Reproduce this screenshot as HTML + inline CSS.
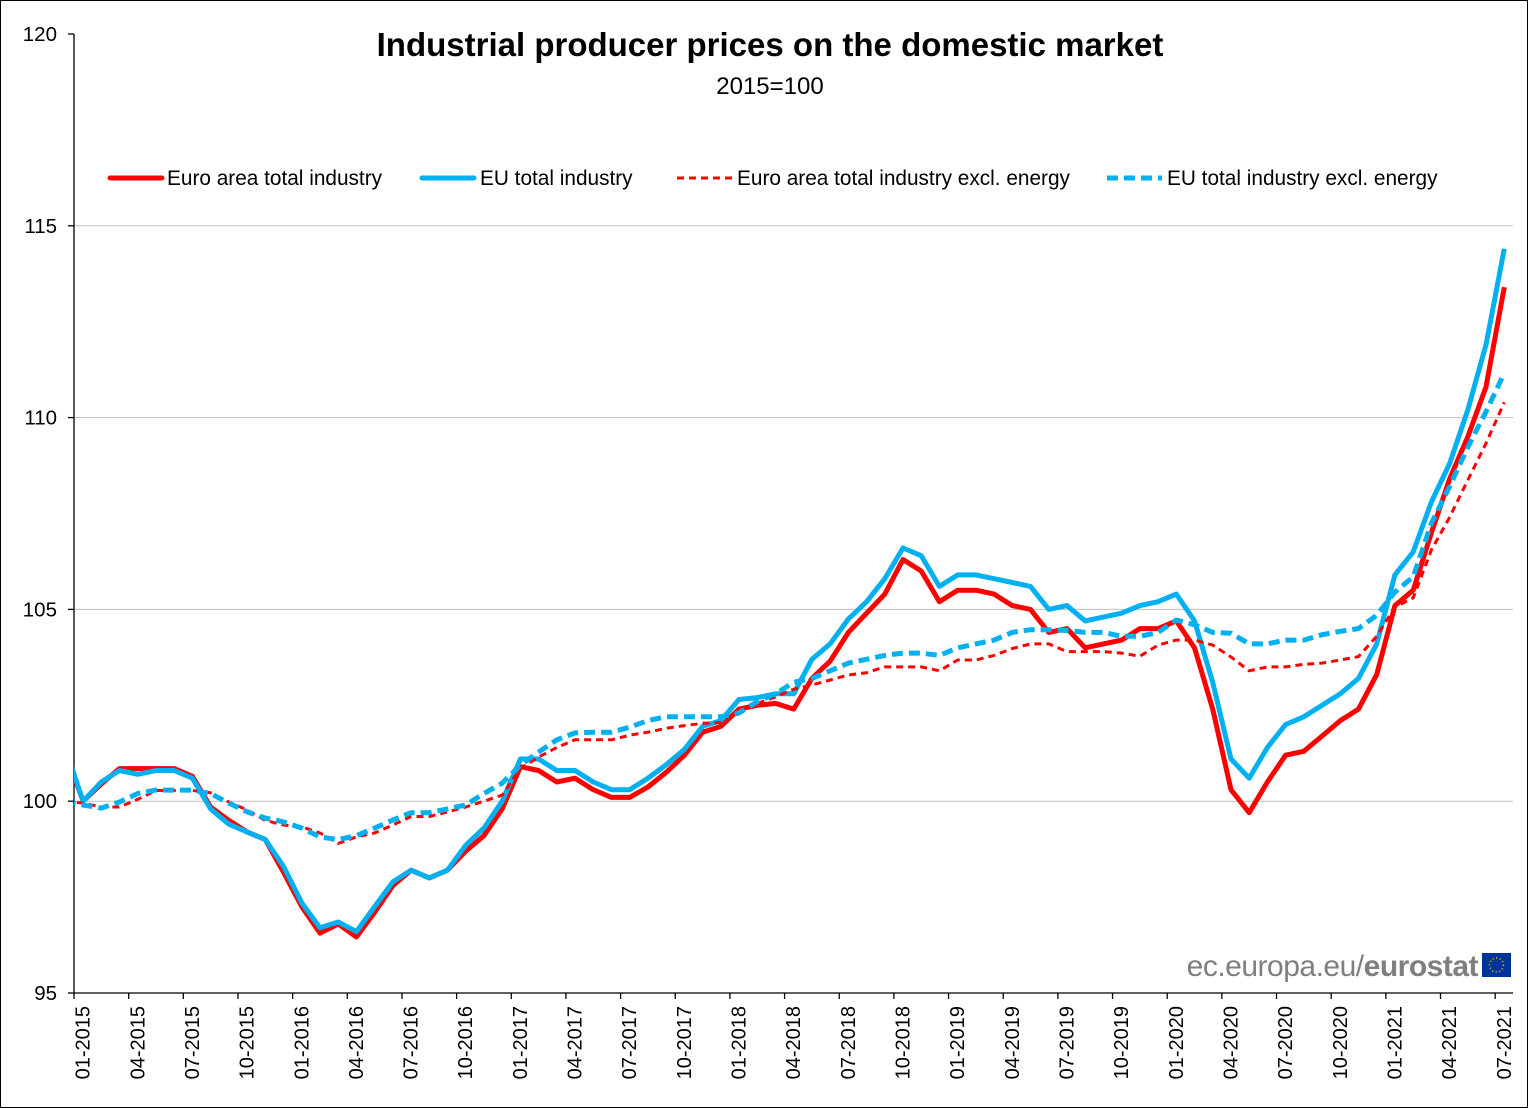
<!DOCTYPE html>
<html><head><meta charset="utf-8">
<style>
html,body{margin:0;padding:0;background:#fff;}
body{width:1528px;height:1108px;overflow:hidden;}
svg{display:block;font-family:"Liberation Sans",Arial,sans-serif;}
</style></head>
<body>
<svg id="chart" width="1528" height="1108" viewBox="0 0 1528 1108" xmlns="http://www.w3.org/2000/svg">
<rect x="0.5" y="0.5" width="1527" height="1107" fill="#fff" stroke="#000" stroke-width="1"/>
<text x="770" y="56" text-anchor="middle" font-size="33" font-weight="bold">Industrial producer prices on the domestic market</text>
<text x="770" y="94" text-anchor="middle" font-size="24">2015=100</text>
<g id="grid"></g>
<g id="yaxis"></g>
<g id="xaxis"></g>
<defs><clipPath id="plotclip"><rect x="74" y="30" width="1440" height="964"/></clipPath></defs>
<g id="series" clip-path="url(#plotclip)"></g>
<g id="legend">
  <g>
    <line x1="110" y1="178" x2="162" y2="178" stroke="#ff0000" stroke-width="5" stroke-linecap="round"/>
    <text x="167" y="185" font-size="20.8">Euro area total industry</text>
  </g>
  <g>
    <line x1="422" y1="178" x2="474" y2="178" stroke="#00b0f0" stroke-width="5" stroke-linecap="round"/>
    <text x="480" y="185" font-size="20.8">EU total industry</text>
  </g>
  <g>
    <line x1="677" y1="178" x2="732" y2="178" stroke="#ff0000" stroke-width="3" stroke-dasharray="7,5"/>
    <text x="737" y="185" font-size="20.8">Euro area total industry excl. energy</text>
  </g>
  <g>
    <line x1="1107" y1="178" x2="1162" y2="178" stroke="#00b0f0" stroke-width="5" stroke-dasharray="11,6"/>
    <text x="1167" y="185" font-size="20.8">EU total industry excl. energy</text>
  </g>
</g>
<g>
  <text x="1478" y="976" text-anchor="end" font-size="30" fill="#7f7f7f" letter-spacing="-0.5">ec.europa.eu/<tspan font-weight="bold">eurostat</tspan></text>
  <rect x="1482" y="953" width="29" height="24" fill="#003399"/>
  <circle cx="1496.5" cy="965" r="7" fill="none" stroke="#ffcc00" stroke-width="1.5" stroke-dasharray="1,2.6"/>
</g>
</svg>
<script>
// Monthly data: 12-2014 (clipped lead-in) through 07-2021
const months = [];
for (let y = 2014; y <= 2021; y++) for (let m = 1; m <= 12; m++) {
  if (y === 2014 && m < 12) continue;
  if (y === 2021 && m > 7) continue;
  months.push((m < 10 ? '0' + m : '' + m) + '-' + y);
}
const euroAreaTotal = [101.3,100.0,100.45,100.85,100.85,100.85,100.85,100.65,99.85,99.5,99.2,99.0,98.15,97.25,96.56,96.8,96.46,97.1,97.8,98.2,98.0,98.2,98.7,99.1,99.8,100.9,100.8,100.5,100.6,100.3,100.1,100.1,100.37,100.75,101.2,101.8,101.95,102.4,102.5,102.55,102.4,103.2,103.65,104.4,104.9,105.4,106.3,106.0,105.2,105.5,105.5,105.4,105.1,105.0,104.4,104.5,104.0,104.1,104.2,104.5,104.5,104.7,104.0,102.4,100.3,99.7,100.5,101.2,101.3,101.7,102.1,102.4,103.3,105.1,105.5,107.0,108.4,109.5,110.8,113.4];
const euTotal = [101.4,100.0,100.5,100.8,100.7,100.8,100.8,100.6,99.8,99.4,99.2,99.0,98.3,97.35,96.7,96.85,96.6,97.25,97.9,98.2,98.0,98.2,98.85,99.3,100.0,101.1,101.1,100.8,100.8,100.5,100.3,100.3,100.6,100.95,101.35,101.95,102.1,102.65,102.7,102.8,102.8,103.7,104.1,104.75,105.2,105.8,106.6,106.4,105.6,105.9,105.9,105.8,105.7,105.6,105.0,105.1,104.7,104.8,104.9,105.1,105.2,105.4,104.7,103.1,101.1,100.6,101.4,102.0,102.2,102.5,102.8,103.2,104.1,105.9,106.5,107.8,108.8,110.2,111.9,114.4];
const euroAreaExclEnergy = [100.0,99.95,99.85,99.85,100.05,100.28,100.28,100.28,100.22,99.98,99.77,99.5,99.38,99.33,99.17,98.9,99.07,99.17,99.38,99.6,99.6,99.72,99.85,100.0,100.16,100.86,101.15,101.4,101.6,101.6,101.6,101.72,101.8,101.9,101.97,102.03,102.05,102.32,102.55,102.72,102.92,103.03,103.16,103.29,103.35,103.5,103.5,103.5,103.4,103.68,103.68,103.8,103.98,104.1,104.1,103.9,103.9,103.9,103.86,103.78,104.07,104.2,104.2,104.07,103.76,103.4,103.5,103.5,103.57,103.6,103.68,103.77,104.3,105.06,105.3,106.55,107.4,108.37,109.33,110.4];
const euExclEnergy = [100.0,99.9,99.82,99.98,100.2,100.29,100.29,100.29,100.2,99.95,99.72,99.56,99.46,99.3,99.07,99.0,99.1,99.3,99.51,99.7,99.7,99.8,99.9,100.2,100.47,100.94,101.28,101.6,101.78,101.8,101.8,101.93,102.1,102.2,102.2,102.2,102.2,102.3,102.6,102.8,103.1,103.2,103.4,103.6,103.7,103.8,103.86,103.86,103.8,104.0,104.1,104.2,104.4,104.47,104.47,104.45,104.4,104.4,104.3,104.3,104.4,104.72,104.6,104.4,104.38,104.1,104.1,104.2,104.2,104.34,104.43,104.5,104.85,105.45,105.85,107.25,108.2,109.23,110.15,111.16];
const yTicks = [95, 100, 105, 110, 115, 120];
const gridValues = [100, 105, 110, 115];

const NS = 'http://www.w3.org/2000/svg';
const X0 = 74, STEP = 18.22, PLOT_R = 1513, Y_TOP = 34, Y_BOT = 993, YMIN = 95, YMAX = 120;
function xTick(i) { return X0 + STEP * (i - 1); }
function xPos(i) { return xTick(i) + STEP / 2; }
function yPos(v) { return Y_BOT - (v - YMIN) / (YMAX - YMIN) * (Y_BOT - Y_TOP); }
function mk(tag, attrs, parent) {
  const e = document.createElementNS(NS, tag);
  for (const k in attrs) e.setAttribute(k, attrs[k]);
  parent.appendChild(e);
  return e;
}
const grid = document.getElementById('grid');
gridValues.forEach(v => {
  const l = mk('line', {x1: X0, x2: PLOT_R, y1: yPos(v), y2: yPos(v), stroke: '#bfbfbf', 'stroke-width': 1}, grid);
  
  
});
const yaxis = document.getElementById('yaxis');
const yl = mk('line', {x1: X0, x2: X0, y1: Y_TOP, y2: Y_BOT, stroke: '#000', 'stroke-width': 1.3}, yaxis);


yTicks.forEach(v => {
  mk('line', {x1: X0 - 6, x2: X0, y1: yPos(v), y2: yPos(v), stroke: '#000', 'stroke-width': 1.3}, yaxis);
  const t = mk('text', {x: 57, y: yPos(v) + 7, 'text-anchor': 'end', 'font-size': 20.5}, yaxis);
  t.textContent = v;
  
  
});
const xaxis = document.getElementById('xaxis');
const xl = mk('line', {x1: X0, x2: PLOT_R, y1: Y_BOT, y2: Y_BOT, stroke: '#000', 'stroke-width': 1.3}, xaxis);


for (let i = 1; i < months.length; i++) {
  if ((i - 1) % 3 !== 0) continue;
  const tx = xTick(i);
  mk('line', {x1: tx, x2: tx, y1: Y_BOT, y2: Y_BOT + 6, stroke: '#000', 'stroke-width': 1.3}, xaxis);
  const cx = xPos(i) + 6.5;
  const t = mk('text', {x: 0, y: 0, 'text-anchor': 'end', 'font-size': 20, transform: 'translate(' + cx + ',1006) rotate(-90)'}, xaxis);
  t.textContent = months[i];
  
  
}
const series = document.getElementById('series');
function drawLine(vals, color, width, dash, name) {
  const d = vals.map((v, i) => (i ? 'L' : 'M') + xPos(i).toFixed(1) + ',' + yPos(v).toFixed(1)).join(' ');
  const attrs = {d: d, fill: 'none', stroke: color, 'stroke-width': width, 'stroke-linejoin': 'round'};
  if (dash) attrs['stroke-dasharray'] = dash;
  const p = mk('path', attrs, series);
  
  
}
drawLine(euroAreaTotal, '#ff0000', 5, null, 'line-euro-area-total-industry');
drawLine(euTotal, '#00b0f0', 5, null, 'line-eu-total-industry');
drawLine(euroAreaExclEnergy, '#ff0000', 3, '7,5', 'line-euro-area-excl-energy');
drawLine(euExclEnergy, '#00b0f0', 5, '11,6', 'line-eu-excl-energy');
</script>
</body></html>
